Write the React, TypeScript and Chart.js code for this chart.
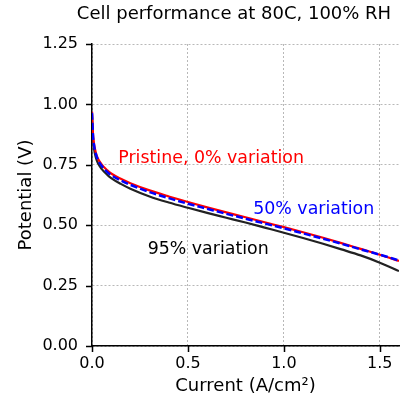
import { useEffect, useRef } from "react";
import { Chart, registerables } from "chart.js";

Chart.register(...registerables);

const currents = [0, 0.005, 0.01, 0.02, 0.03, 0.05, 0.08, 0.1, 0.15, 0.2, 0.3, 0.4, 0.5, 0.6, 0.7, 0.8, 0.9, 1.0, 1.1, 1.2, 1.3, 1.4, 1.5, 1.6];
const pristine = [0.97, 0.88, 0.84, 0.8, 0.777, 0.752, 0.727, 0.714, 0.692, 0.674, 0.644, 0.619, 0.596, 0.574, 0.553, 0.533, 0.512, 0.492, 0.471, 0.449, 0.426, 0.402, 0.378, 0.352];
const variation50 = [0.965, 0.875, 0.835, 0.795, 0.772, 0.746, 0.72, 0.707, 0.685, 0.667, 0.637, 0.612, 0.589, 0.568, 0.547, 0.527, 0.507, 0.487, 0.466, 0.445, 0.423, 0.4, 0.378, 0.354];
const variation95 = [0.96, 0.86, 0.82, 0.78, 0.758, 0.733, 0.708, 0.695, 0.671, 0.651, 0.619, 0.594, 0.572, 0.551, 0.531, 0.511, 0.49, 0.469, 0.447, 0.424, 0.4, 0.375, 0.345, 0.31];
const xTicks = [0, 0.5, 1.0, 1.5];
const yTicks = [0, 0.25, 0.5, 0.75, 1.0, 1.25];
const titleText = "Cell performance at 80C, 100% RH";
const xTitle = "Current (A/cm²)";
const yTitle = "Potential (V)";
const seriesLabels = ["Pristine, 0% variation", "50% variation", "95% variation"];

const FONT = "DejaVu Sans";

export default function App() {
  const ref = useRef<HTMLCanvasElement>(null);

  useEffect(() => {
    const pts = (ys: number[]) => currents.map((x, i) => ({ x, y: ys[i] }));

    const decor = {
      id: "decor",
      afterDraw(chart: any) {
        const { ctx, chartArea } = chart;
        const xs = chart.scales.x;
        const ys = chart.scales.y;
        ctx.save();
        ctx.strokeStyle = "#000";
        ctx.lineWidth = 1.5;
        ctx.beginPath();
        xTicks.forEach((v) => {
          const px = Math.round(xs.getPixelForValue(v)) + 0.5;
          ctx.moveTo(px, chartArea.bottom);
          ctx.lineTo(px, chartArea.bottom + 6);
        });
        yTicks.forEach((v) => {
          const py = Math.round(ys.getPixelForValue(v)) + 0.5;
          ctx.moveTo(chartArea.left - 6, py);
          ctx.lineTo(chartArea.left, py);
        });
        ctx.stroke();
        ctx.fillStyle = "#000";
        ctx.font = `18px "${FONT}"`;
        ctx.textAlign = "center";
        ctx.textBaseline = "middle";
        ctx.fillText(titleText, 234, 14);
        ctx.restore();
      },
      afterDatasetsDraw(chart: any) {
        const { ctx } = chart;
        const xs = chart.scales.x;
        const ys = chart.scales.y;
        const notes = [
          { t: seriesLabels[0], x: 0.137, y: 0.778, c: "#ff0000" },
          { t: seriesLabels[1], x: 0.84, y: 0.563, c: "#0000ff" },
          { t: seriesLabels[2], x: 0.29, y: 0.4, c: "#000000" },
        ];
        ctx.save();
        ctx.font = `17.4px "${FONT}"`;
        ctx.textAlign = "left";
        ctx.textBaseline = "middle";
        notes.forEach((n) => {
          ctx.fillStyle = n.c;
          ctx.fillText(n.t, xs.getPixelForValue(n.x), ys.getPixelForValue(n.y));
        });
        ctx.restore();
      },
    };

    const chart = new Chart(ref.current!, {
      type: "line",
      data: {
        datasets: [
          {
            label: seriesLabels[1],
            data: pts(variation50),
            borderColor: "#0000ff",
            borderWidth: 2.5,
            borderDash: [7, 3],
            pointRadius: 0,
            cubicInterpolationMode: "monotone",
          },
          {
            label: seriesLabels[0],
            data: pts(pristine),
            borderColor: "#ff0000",
            borderWidth: 2.2,
            pointRadius: 0,
            cubicInterpolationMode: "monotone",
          },
          {
            label: seriesLabels[2],
            data: pts(variation95),
            borderColor: "#222222",
            borderWidth: 2.2,
            pointRadius: 0,
            cubicInterpolationMode: "monotone",
          },
        ],
      },
      options: {
        animation: false,
        responsive: false,
        layout: { padding: { top: 44, right: 12, left: 0, bottom: 0 } },
        plugins: {
          legend: { display: false },
          tooltip: { enabled: false },
          title: { display: false },
        },
        scales: {
          x: {
            type: "linear",
            min: 0,
            max: 1.6,
            afterBuildTicks: (s: any) => {
              s.ticks = xTicks.map((v) => ({ value: v }));
            },
            afterFit: (s: any) => {
              s.height = 53;
            },
            grid: { color: "#b8b8b8", lineWidth: 1, drawTicks: false },
            border: { display: true, color: "#000", width: 1.5, dash: [2, 2] },
            ticks: {
              padding: 8,
              color: "#000",
              font: { family: FONT, size: 16 },
              maxRotation: 0,
              autoSkip: false,
              callback: (v: any) => Number(v).toFixed(1),
            },
            title: {
              display: true,
              text: xTitle,
              color: "#000",
              font: { family: FONT, size: 18 },
              padding: { top: 2, bottom: 2 },
            },
          },
          y: {
            type: "linear",
            min: 0,
            max: 1.25,
            afterBuildTicks: (s: any) => {
              s.ticks = yTicks.map((v) => ({ value: v }));
            },
            afterFit: (s: any) => {
              s.width = 92;
            },
            grid: { color: "#b8b8b8", lineWidth: 1, drawTicks: false },
            border: { display: true, color: "#000", width: 1.5, dash: [2, 2] },
            ticks: {
              padding: 14,
              color: "#000",
              font: { family: FONT, size: 16 },
              autoSkip: false,
              callback: (v: any) => Number(v).toFixed(2),
            },
            title: {
              display: true,
              text: yTitle,
              color: "#000",
              font: { family: FONT, size: 18 },
              padding: { top: 16, bottom: 16 },
            },
          },
        },
      },
      plugins: [decor],
    } as any);

    return () => chart.destroy();
  }, []);

  return (
    <div style={{ position: "absolute", left: 0, top: 0, width: 411, height: 399, background: "#fff" }}>
      <canvas ref={ref} width={411} height={399} />
    </div>
  );
}
